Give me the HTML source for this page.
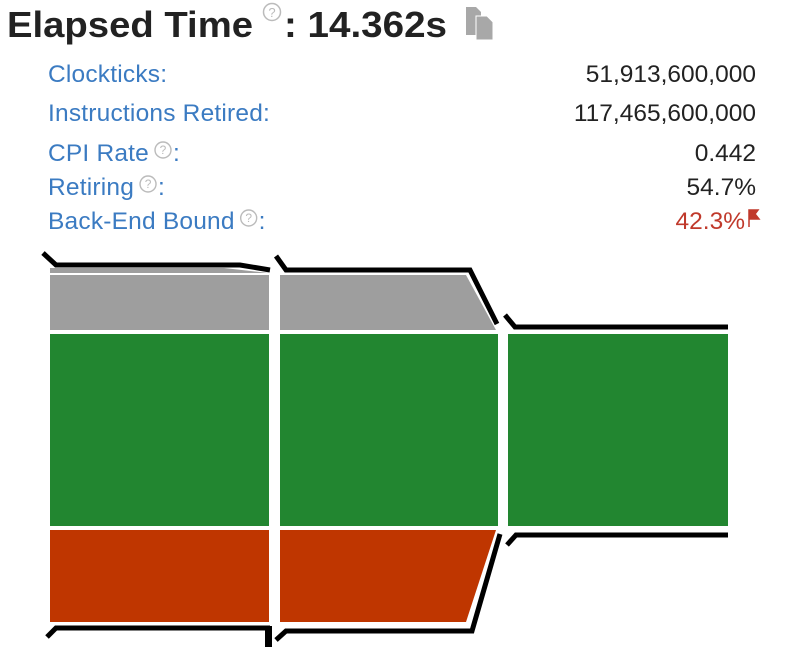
<!DOCTYPE html>
<html><head><meta charset="utf-8"><style>
html,body{margin:0;padding:0;background:#fff;width:791px;height:653px;overflow:hidden}
svg{display:block;font-family:"Liberation Sans",sans-serif}
</style></head><body>
<svg id="c" width="791" height="653" viewBox="0 0 791 653">
<g>
<text x="7" y="37" font-size="36" font-weight="bold" fill="#222" textLength="246" lengthAdjust="spacingAndGlyphs">Elapsed Time</text>
<g><circle cx="272" cy="12" r="8.5" fill="none" stroke="#bbb" stroke-width="1.5"/><text x="272" y="17" font-size="13" fill="#bbb" text-anchor="middle">?</text></g>
<text x="284" y="37" font-size="36" font-weight="bold" fill="#222" textLength="163" lengthAdjust="spacingAndGlyphs">: 14.362s</text>
<g><path d="M466 7h10l5 5v23h-15z" fill="#a8a8a8"/><path d="M476 16h11l6 6v18h-17z" fill="#a8a8a8" stroke="#fff" stroke-width="1"/></g>
</g>
<g id="metrics"></g>
<g id="chart"></g>
</svg>
<script>
const metricLabels=["Clockticks","Instructions Retired","CPI Rate","Retiring","Back-End Bound"];
const metricValues=["51,913,600,000","117,465,600,000","0.442","54.7%","42.3%"];
const metricHelp=[false,false,true,true,true];
const NS="http://www.w3.org/2000/svg";
const m=document.getElementById('metrics');
const baselines=[82,121,161,195,229];
function mk(tag,attrs,parent){const e=document.createElementNS(NS,tag);for(const k in attrs)e.setAttribute(k,attrs[k]);parent.appendChild(e);return e;}
metricLabels.forEach((lab,i)=>{
  const y=baselines[i];
  const t=mk('text',{x:48,y:y,'font-size':24.5,fill:'#3b7bc2','letter-spacing':'0.2'},m);
  t.textContent=lab+(metricHelp[i]?'':':');
  
  
  if(metricHelp[i]){
    const w=t.getComputedTextLength();
    const cx=48+w+14;
    const g=mk('g',{},m);
    
    
    mk('circle',{cx:cx,cy:y-11,r:8,fill:'none',stroke:'#bbb','stroke-width':1.4},g);
    const q=mk('text',{x:cx,y:y-7,'font-size':12,fill:'#bbb','text-anchor':'middle'},g);q.textContent='?';
    const c=mk('text',{x:cx+10,y:y,'font-size':24.5,fill:'#3b7bc2'},m);c.textContent=':';
  }
  const red=i===4;
  const right=red?745:756;
  const v=mk('text',{x:right,y:y,'font-size':24.5,fill:red?'#c0392b':'#222','text-anchor':'end','letter-spacing':'0'},m);
  v.textContent=metricValues[i];
  
  
  if(red){const f=mk('path',{d:'M749 210v17M749 210h9l-3 4 4 5h-10z',fill:'#c0392b',stroke:'#c0392b','stroke-width':1.5},m);
    
    }
});
// chart data (heights in px units)
const stages=["Block 1","Block 2","Block 3"];
const frontEnd=[55,55,0];
const retiring=[192,192,192];
const backEnd=[92,92,0];
const ch=document.getElementById('chart');
const xs=[[50,269],[280,498],[508,728]];
const greenTop=334;
const gap=4;
stages.forEach((s,i)=>{
  const [x0,x1]=xs[i];
  const gT=greenTop, gB=greenTop+retiring[i];
  const g=mk('rect',{x:x0,y:gT,width:x1-x0,height:retiring[i],fill:'#228630'},ch);
  
  
  if(frontEnd[i]>0){
    const top=gT-gap-frontEnd[i], bot=gT-gap;
    let d;
    if(i===1){d=`M${x0} ${top}H${x1-32}L${x1-2} ${bot}H${x0}Z`;}
    else{d=`M${x0} ${top}H${x1}V${bot}H${x0}Z`;
      const s2=mk('path',{d:`M${x0} ${top-7}H${x1-45}L${x1} ${top-2}H${x0}Z`,fill:'#9e9e9e'},ch);
      
      }
    const p=mk('path',{d:d,fill:'#9e9e9e'},ch);
    
    
  }
  if(backEnd[i]>0){
    const top=gB+gap, bot=gB+gap+backEnd[i];
    let d;
    if(i===1){d=`M${x0} ${top}H${x1-2}L${x1-32} ${bot}H${x0}Z`;}
    else d=`M${x0} ${top}H${x1}V${bot}H${x0}Z`;
    const p=mk('path',{d:d,fill:'#bf3600'},ch);
    
    
  }
});
const lines=[
 ['top-outline-1','M43 253L56 265H240L270 270'],
 ['top-outline-2','M276 256L286 270H470L497 324'],
 ['top-outline-3','M505 315L515 327H728'],
 ['bottom-outline-1','M47 637L56 628H270'],
 ['bottom-outline-2','M276 640L286 631H472L500 534'],
 ['bottom-outline-3','M507 545L516 535H728']
];
lines.forEach(([n,d])=>{
  const p=mk('path',{d:d,fill:'none',stroke:'#000','stroke-width':5,'stroke-linejoin':'miter'},ch);
  
  
});
const vb=mk('rect',{x:265,y:626,width:7,height:21,fill:'#000'},ch);


</script>
</body></html>
